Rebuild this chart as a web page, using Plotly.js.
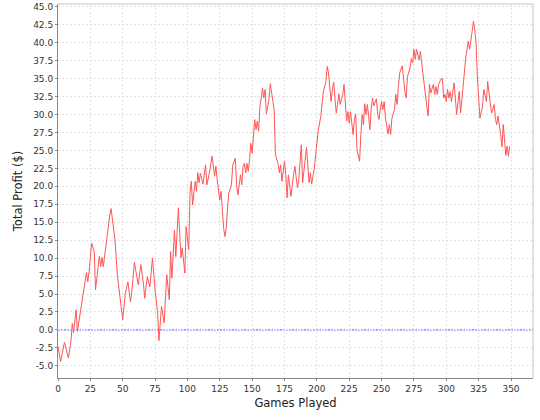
<!DOCTYPE html>
<html>
<head>
<meta charset="utf-8">
<script src="https://cdn.plot.ly/plotly-3.0.1.min.js"></script>
<style>html,body{margin:0;padding:0;background:#fff;}#chart{width:540px;height:420px;}</style>
</head>
<body>
<div id="chart"></div>
<script>
var games = [0,2,5,8,10,11,12,14,15,17,20,22,23,24,26,28,29,32,33,34,35,37,38,40,41,43,44,46,47,50,52,54,56,57,59,62,64,66,67,69,71,73,75,77,78,80,82,84,86,87,88,90,91,93,95,96,98,99,101,102,103,104,106,107,108,109,110,112,114,115,117,119,121,122,123,124,125,126,127,128,129,130,131,132,134,135,137,138,139,140,141,142,143,144,145,146,147,148,149,150,152,153,154,155,156,157,158,159,160,161,163,164,166,167,168,170,171,172,173,175,176,177,178,179,180,182,183,185,186,188,189,192,194,195,196,198,199,201,203,204,205,207,208,209,211,212,213,214,215,216,217,218,220,221,223,224,225,226,227,228,229,230,231,233,234,235,236,237,238,239,240,241,242,243,244,246,247,248,249,250,251,252,253,255,256,257,258,260,261,262,263,264,266,267,268,269,270,272,273,274,275,276,277,279,280,281,282,283,285,286,287,288,290,291,292,293,294,296,297,298,299,300,301,302,303,304,305,306,307,308,310,311,313,314,315,317,318,320,321,322,323,324,325,326,328,329,331,332,334,335,337,338,339,340,342,343,344,345,346,347,348,349];
var profit = [-2.3,-4.4,-1.7,-3.9,-1.6,0.9,-0.4,2.8,-0.2,2.3,5.6,8.0,6.7,8.1,12.1,10.9,5.6,10.3,8.8,10.1,8.8,11.9,13.0,16.0,16.9,13.7,12.6,7.4,5.9,1.4,5.1,6.7,3.9,5.3,9.4,6.3,9.1,6.5,4.4,7.4,6.0,10.0,5.6,2.3,-1.5,3.3,1.0,7.7,4.2,10.9,7.2,13.9,10.2,17.0,10.0,11.4,7.9,14.4,11.2,19.1,20.7,17.4,20.7,19.3,21.9,20.5,21.8,20.3,23.0,20.2,21.9,24.2,21.4,22.8,20.9,19.5,18.1,19.3,16.5,14.1,13.0,14.2,17.0,19.1,20.2,23.0,23.9,20.2,18.8,20.7,21.6,20.2,22.8,23.2,21.9,23.2,22.1,23.7,26.0,24.6,29.3,27.9,29.1,27.7,31.1,32.3,33.7,32.3,33.5,30.1,32.1,34.3,32.1,30.7,24.4,23.2,21.9,23.0,20.7,23.5,21.6,18.4,21.6,19.8,18.6,21.6,22.8,19.8,20.9,25.8,20.5,25.4,20.5,21.9,20.3,22.5,24.4,27.7,29.7,31.6,33.2,34.6,36.7,35.8,31.8,33.5,34.5,32.3,30.2,31.4,32.9,31.4,32.8,34.2,29.1,30.4,28.8,30.4,29.1,27.2,29.3,30.1,25.1,23.5,27.2,30.0,28.6,31.5,30.0,31.4,29.8,27.9,30.9,32.3,31.2,32.2,30.0,29.3,30.7,31.8,30.7,31.8,29.5,27.3,28.6,27.2,29.5,30.7,32.8,31.4,33.9,35.8,36.8,34.4,33.2,32.3,35.3,36.5,37.8,37.2,39.1,37.7,39.1,37.6,38.8,37.2,35.6,33.5,31.1,29.8,34.2,33.0,34.2,32.8,33.9,32.8,34.2,35.0,35.0,32.3,32.8,31.8,33.5,32.3,33.2,31.8,33.2,34.4,32.3,30.0,33.2,30.2,33.9,36.5,37.9,40.2,39.1,41.6,43.0,41.8,40.0,35.3,32.1,29.5,31.1,33.5,31.8,34.6,31.6,30.2,31.4,29.3,28.6,29.8,27.2,25.5,28.6,26.7,24.3,25.6,24.2,25.6];
var xTicks = [0,25,50,75,100,125,150,175,200,225,250,275,300,325,350];
var yTickVals = [-5,-2.5,0,2.5,5,7.5,10,12.5,15,17.5,20,22.5,25,27.5,30,32.5,35,37.5,40,42.5,45];
var yTickText = ["-5.0","-2.5","0.0","2.5","5.0","7.5","10.0","12.5","15.0","17.5","20.0","22.5","25.0","27.5","30.0","32.5","35.0","37.5","40.0","42.5","45.0"];
var xTitle = "Games Played";
var yTitle = "Total Profit ($)";

var trace = {
  x: games, y: profit, type: 'scatter', mode: 'lines',
  line: {color: 'rgb(255,85,85)', width: 1},
  hoverinfo: 'none', showlegend: false
};
var tickFont = {family: 'DejaVu Sans, sans-serif', size: 9, color: '#333'};
var layout = {
  width: 540, height: 420,
  margin: {l: 58, r: 7, t: 4, b: 42},
  paper_bgcolor: '#fff', plot_bgcolor: '#fff',
  showlegend: false,
  xaxis: {
    range: [0, 367], tickvals: xTicks, ticktext: xTicks.map(String),
    showgrid: true, gridcolor: '#e2e2e2', griddash: '2px,2px', gridwidth: 1,
    zeroline: false, showline: true, linecolor: '#888', linewidth: 1,
    ticks: 'outside', ticklen: 2, tickcolor: '#888',
    tickfont: tickFont,
    title: {text: xTitle, font: {family: 'DejaVu Sans, sans-serif', size: 11.5, color: '#222'}, standoff: 6}
  },
  yaxis: {
    range: [-6.7, 45.4], tickvals: yTickVals, ticktext: yTickText,
    showgrid: true, gridcolor: '#e2e2e2', griddash: '2px,2px', gridwidth: 1,
    zeroline: false, showline: true, linecolor: '#888', linewidth: 1,
    ticks: 'outside', ticklen: 2, tickcolor: '#888',
    tickfont: tickFont,
    title: {text: yTitle, font: {family: 'DejaVu Sans, sans-serif', size: 11.5, color: '#222'}, standoff: 8}
  },
  shapes: [
    {type: 'line', xref: 'paper', yref: 'y', x0: 0, x1: 1, y0: 0, y1: 0,
     line: {color: 'rgba(60,60,255,0.9)', width: 1, dash: '2px,1px'}, layer: 'below'},
    {type: 'line', xref: 'paper', yref: 'paper', x0: 0, x1: 1, y0: 1, y1: 1,
     line: {color: '#c4c4c4', width: 1}},
    {type: 'line', xref: 'paper', yref: 'paper', x0: 1, x1: 1, y0: 0, y1: 1,
     line: {color: '#c4c4c4', width: 1}}
  ]
};
Plotly.newPlot('chart', [trace], layout, {staticPlot: true, displayModeBar: false});
</script>
</body>
</html>
